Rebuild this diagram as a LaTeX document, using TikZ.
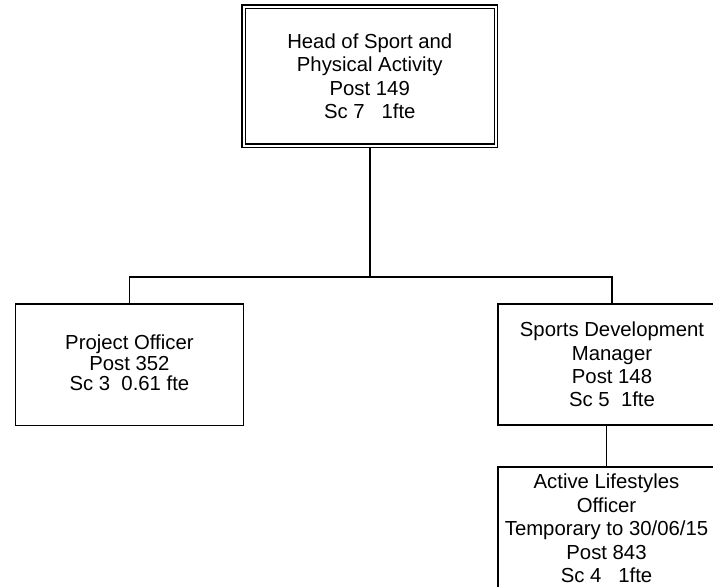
\documentclass[tikz,border=0pt]{standalone}
\usepackage{fontspec}
\setmainfont{Liberation Sans}
\begin{document}
\begin{tikzpicture}[x=1bp,y=-1bp,
  box/.style={draw, line width=1.3bp, align=center, inner sep=0pt,
    font=\fontsize{20.4}{23.5}\selectfont},
  tightbox/.style={box, font=\fontsize{20.4}{21}\selectfont},
  link/.style={line width=1.6bp}]
\useasboundingbox (0,0) rectangle (713,587);
\clip (0,0) rectangle (713,587);

% head post, drawn with a double frame
\node[box, minimum width=255.5bp, minimum height=142.5bp] (head) at (369.75,76.25)
  {Head of Sport and\\Physical Activity\\Post 149\\Sc 7 \ \ 1fte};
\draw[line width=1.3bp] ([shift={(4bp,-4bp)}]head.north west)
  rectangle ([shift={(-4bp,4bp)}]head.south east);

% direct reports
\node[tightbox, minimum width=227.8bp, minimum height=121.5bp] (po) at (129.4,364.75)
  {Project Officer\\Post 352\\Sc 3 \ 0.61 fte\vphantom{g}};
\node[box, minimum width=228bp, minimum height=121bp] (sdm) at (612,364.5)
  {Sports Development\\Manager\\Post 148\\Sc 5 \ 1fte};
\node[box, minimum width=217bp, minimum height=123bp] (als) at (606.5,528.5)
  {Active Lifestyles\\Officer\\Temporary to 30/06/15\\Post 843\\Sc 4 \ \ 1fte};

% reporting lines
\coordinate (bus) at (369.75,277);
\draw[link] (head.south) -- (bus);
\draw[link] (po.north) |- (bus) -| (sdm.north);
\draw[link] (als.north) -- (als.north |- sdm.south);
\end{tikzpicture}
\end{document}
